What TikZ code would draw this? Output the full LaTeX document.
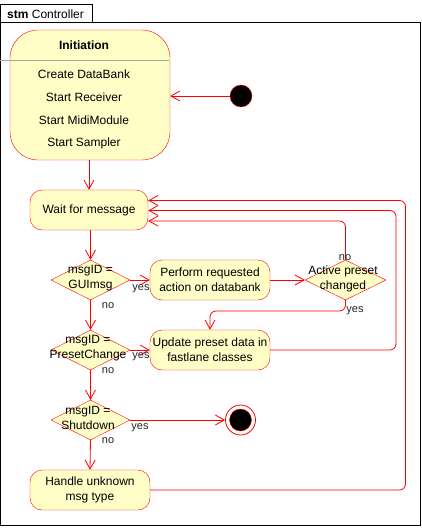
\documentclass[tikz,border=0pt]{standalone}
\usepackage{fontspec}
\setmainfont{Liberation Sans}
\usetikzlibrary{arrows.meta,shapes.geometric}
\definecolor{umlfill}{HTML}{FEFEC6}
\definecolor{umlred}{HTML}{FF0000}
\tikzset{
  x=1pt,y=-1pt,
  act/.style={draw=umlred,fill=umlfill,rounded corners=12pt,minimum width=#1,minimum height=40pt,inner sep=0pt,align=center,font=\fontsize{12}{15}\selectfont},
  act/.default=120pt,
  dec/.style={draw=umlred,fill=umlfill,diamond,aspect=2,minimum width=79pt,minimum height=40pt,inner sep=0pt},
  dectext/.style={align=center,font=\fontsize{12}{15}\selectfont,inner sep=0pt},
  flow/.style={draw=umlred,line width=0.8pt,-{Straight Barb[length=9pt,width=10pt,line width=0.8pt]},rounded corners=6pt},
  lbl/.style={font=\fontsize{11}{13}\selectfont,inner sep=0pt,text=black!85},
}
\begin{document}
\begin{tikzpicture}
\useasboundingbox (0,0) rectangle (422,529);
% frame
\draw[line width=1pt] (0.5,23) rectangle (420.5,525);
\draw[line width=1pt] (0.5,5) rectangle (92,23);
\node[anchor=west,inner sep=0pt,font=\fontsize{12}{14}\selectfont] (title) at (7,14) {\textbf{stm} Controller};
% Initiation
\node[draw=umlred,fill=umlfill,rounded corners=28pt,minimum width=160pt,minimum height=130pt,inner sep=0pt] (init) at (90,95) {};
\draw[gray!70,line width=0.8pt] (0,60) -- (169,60);
\node[font=\fontsize{12}{14}\selectfont\bfseries,inner sep=0pt] (initt) at (84,45) {Initiation};
\node[font=\fontsize{12}{14}\selectfont,inner sep=0pt] (i1) at (84,74) {Create DataBank};
\node[font=\fontsize{12}{14}\selectfont,inner sep=0pt] (i2) at (84,97) {Start Receiver};
\node[font=\fontsize{12}{14}\selectfont,inner sep=0pt] (i3) at (84,120) {Start MidiModule};
\node[font=\fontsize{12}{14}\selectfont,inner sep=0pt] (i4) at (84,143) {Start Sampler};
% initial node
\node[circle,fill=black,draw=umlred,line width=0.4pt,minimum size=22pt,inner sep=0pt] (start) at (241,96) {};
% actions
\node[act=118pt] (wait) at (89,210) {Wait for message};
\node[dec] (d1) at (90.5,280) {};
\node[dectext] (d1t) at (90.5,278) {msgID =\\GUImsg};
\node[act] (perf) at (210,280) {Perform requested\\action on databank};
\node[dec,minimum width=81pt] (d4) at (345.5,280) {};
\node[dectext] (d4t) at (343,279) {Active preset\\changed};
\node[dec] (d2) at (90.5,350) {};
\node[dectext] (d2t) at (88,348) {msgID =\\PresetChange};
\node[act] (upd) at (210,350) {Update preset data in\\fastlane classes};
\node[dec] (d3) at (90.5,420) {};
\node[dectext] (d3t) at (88,418) {msgID =\\Shutdown};
\node[act] (hand) at (90,490) {Handle unknown\\msg type};
% final node
\node[circle,draw=umlred,fill=white,line width=0.8pt,minimum size=30pt,inner sep=0pt] (fin) at (240.5,420) {};
\node[circle,fill=black,draw=umlred,line width=0.4pt,minimum size=22pt,inner sep=0pt] (finin) at (240.5,420) {};
% flows
\draw[flow] (start) -- (init.east |- start);
\draw[flow] (init.south -| wait) -- (wait.north);
\draw[flow] (wait.south -| d1) -- (d1.north);
\draw[flow] (d1.east) -- (perf.west);
\draw[flow] (perf.east) -- (d4.west);
\coordinate (c1) at (345.5,221);
\draw[flow] (d4.north) -- (c1) -- (wait.east |- c1);
\coordinate (c2) at (345.5,311);
\coordinate (c3) at (210,311);
\draw[flow] (d4.south) -- (c2) -- (c3) -- (upd.north);
\draw[flow] (d1.south) -- (d2.north);
\draw[flow] (d2.east) -- (upd.west);
\coordinate (c4) at (396,350);
\coordinate (c5) at (396,210.5);
\draw[flow] (upd.east) -- (c4) -- (c5) -- (wait.east |- c5);
\draw[flow] (d2.south) -- (d3.north);
\draw[flow] (d3.east) -- (fin.west);
\draw[flow] (d3.south) -- (hand.north);
\coordinate (c6) at (405.5,490);
\coordinate (c7) at (405.5,200.5);
\draw[flow] (hand.east) -- (c6) -- (c7) -- (wait.east |- c7);
% labels
\node[lbl] (y1) at (141,289) {yes};
\node[lbl] (n1) at (108,306) {no};
\node[lbl] (n4) at (345,258) {no};
\node[lbl] (y4) at (355,311) {yes};
\node[lbl] (y2) at (141,357) {yes};
\node[lbl] (n2) at (108,371) {no};
\node[lbl] (y3) at (140,428) {yes};
\node[lbl] (n3) at (108,441) {no};
\end{tikzpicture}
\end{document}
